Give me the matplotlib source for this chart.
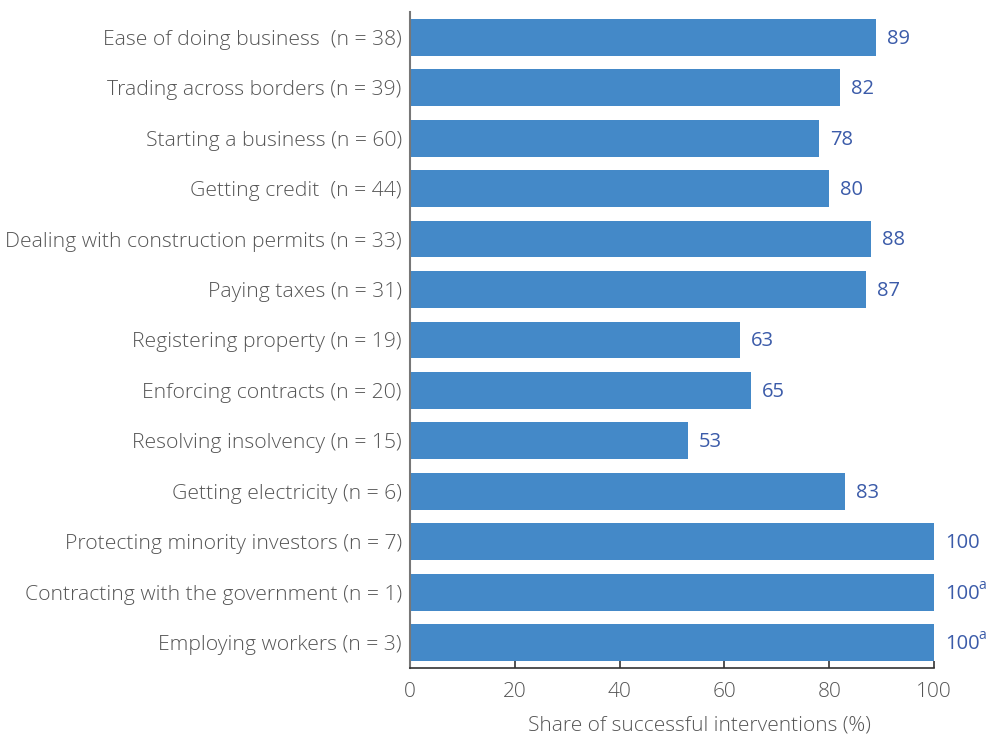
import matplotlib.pyplot as plt

# Share of successful interventions by Doing Business indicator
categories = [
    "Ease of doing business  (n = 38)",
    "Trading across borders (n = 39)",
    "Starting a business (n = 60)",
    "Getting credit  (n = 44)",
    "Dealing with construction permits (n = 33)",
    "Paying taxes (n = 31)",
    "Registering property (n = 19)",
    "Enforcing contracts (n = 20)",
    "Resolving insolvency (n = 15)",
    "Getting electricity (n = 6)",
    "Protecting minority investors (n = 7)",
    "Contracting with the government (n = 1)",
    "Employing workers (n = 3)",
]
shares = [89, 82, 78, 80, 88, 87, 63, 65, 53, 83, 100, 100, 100]
footnotes = ["", "", "", "", "", "", "", "", "", "", "", "a", "a"]
x_ticks = [0, 20, 40, 60, 80, 100]

BAR_COLOR = "#4489c8"
VALUE_COLOR = "#3b5ba9"
TEXT_COLOR = "#555555"
AXIS_COLOR = "#777777"

plt.rcParams["font.family"] = ["Open Sans", "DejaVu Sans"]
plt.rcParams["font.weight"] = 300
plt.rcParams["mathtext.fontset"] = "custom"
plt.rcParams["mathtext.rm"] = "Open Sans"

fig = plt.figure(figsize=(9.89, 7.36), dpi=100)
ax = fig.add_axes([0.4146, 0.0924, 0.5298, 0.8913])

ypos = list(range(len(categories)))
ax.barh(ypos, shares, height=0.73, color=BAR_COLOR)

for y, v, note in zip(ypos, shares, footnotes):
    ax.annotate(str(v), xy=(v, y), xytext=(8, -1), textcoords="offset points",
                va="center", ha="left", fontsize=14.5, color=VALUE_COLOR,
                fontweight="normal")
    if note:
        # small superscript footnote marker after the value
        ax.annotate(note, xy=(v, y), xytext=(32, 5), textcoords="offset points",
                    va="center", ha="left", fontsize=10, color=VALUE_COLOR,
                    fontweight="normal")

ax.set_ylim(len(categories) - 0.5, -0.5)
ax.set_xlim(0, 100)
ax.set_yticks(ypos)
ax.set_yticklabels(categories, fontsize=15.2, color=TEXT_COLOR)
ax.set_xticks(x_ticks)
ax.set_xticklabels([str(t) for t in x_ticks], fontsize=15, color=TEXT_COLOR)
ax.tick_params(axis="y", length=0, pad=6)
ax.tick_params(axis="x", direction="in", length=5, width=1.2, color="#333333", pad=10)

for side in ["top", "right"]:
    ax.spines[side].set_visible(False)
ax.spines["left"].set_color(AXIS_COLOR)
ax.spines["left"].set_linewidth(1.5)
ax.spines["bottom"].set_color("#333333")
ax.spines["bottom"].set_linewidth(1.2)

ax.set_xlabel("Share of successful interventions (%)", fontsize=15,
              color=TEXT_COLOR, fontweight=300)
ax.xaxis.set_label_coords(0.553, -0.073)

fig.savefig("out.png", dpi=100)
